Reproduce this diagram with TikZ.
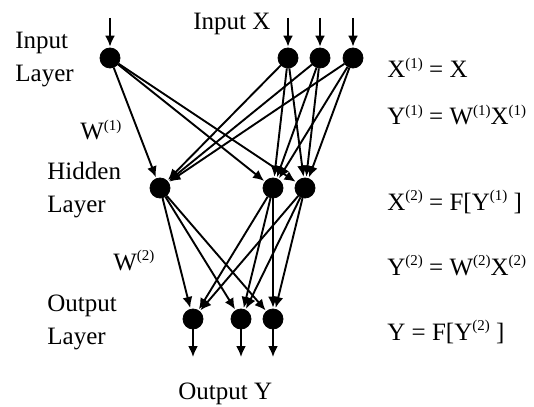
\documentclass[tikz,border=0pt]{standalone}
\usepackage{fontspec}
\setmainfont{Liberation Serif}
\usetikzlibrary{arrows.meta}
\newcommand{\supr}[1]{\raisebox{0.85ex}{\fontsize{7.5}{8}\selectfont(#1)}}
\begin{document}
\begin{tikzpicture}[x=0.5pt,y=-0.5pt,
  neuron/.style={circle,fill=black,draw=black,minimum size=10pt,inner sep=0pt},
  link/.style={line width=0.95pt,-{Latex[length=5.5pt,width=5pt]},shorten >=0.5pt},
  lbl/.style={inner sep=0pt,font=\fontsize{12.5}{16.5}\selectfont},
  side/.style={lbl,align=left,anchor=west}]
\useasboundingbox (0,0) rectangle (534,406);
% neurons
\node[neuron] (i1) at (110,58) {};
\node[neuron] (i2) at (288,58) {};
\node[neuron] (i3) at (320,58) {};
\node[neuron] (i4) at (353,58) {};
\node[neuron] (h1) at (160,188) {};
\node[neuron] (h2) at (273,188) {};
\node[neuron] (h3) at (305,188) {};
\node[neuron] (o1) at (193,319) {};
\node[neuron] (o2) at (241,319) {};
\node[neuron] (o3) at (273,319) {};
% free ends
\coordinate (t1) at (110,18);
\coordinate (t2) at (288,18);
\coordinate (t3) at (320,18);
\coordinate (t4) at (353,18);
\coordinate (b1) at (193,357);
\coordinate (b2) at (241,357);
\coordinate (b3) at (273,357);
% input arrows
\foreach \k in {1,2,3,4} \draw[link] (t\k) -- (i\k);
% output arrows
\foreach \k in {1,2,3} \draw[link,shorten >=0pt] (o\k) -- (b\k);
% input -> hidden
\foreach \a in {1,2,3,4} \foreach \b in {1,2,3} \draw[link] (i\a) -- (h\b);
% hidden -> output
\foreach \a in {1,2,3} \foreach \b in {1,2,3} \draw[link] (h\a) -- (o\b);
% labels
\node[lbl,anchor=base west] (inx) at (193,30) {Input X};
\node[lbl,anchor=base west] (outy) at (178,399) {Output Y};
\node[side] (il) at (15,60) {Input\\Layer};
\node[side] (hl) at (47,190) {Hidden\\Layer};
\node[side] (ol) at (47,322) {Output\\Layer};
\node[lbl,anchor=base west] (w1) at (80,140) {W\supr{1}};
\node[lbl,anchor=base west] (w2) at (113,270) {W\supr{2}};
\node[lbl,anchor=base west] (e1) at (387,78) {X\supr{1} = X};
\node[lbl,anchor=base west] (e2) at (387,125) {Y\supr{1} = W\supr{1}X\supr{1}};
\node[lbl,anchor=base west] (e3) at (387,210) {X\supr{2} = F[Y\supr{1} ]};
\node[lbl,anchor=base west] (e4) at (387,275) {Y\supr{2} = W\supr{2}X\supr{2}};
\node[lbl,anchor=base west] (e5) at (387,340) {Y = F[Y\supr{2} ]};
\end{tikzpicture}
\end{document}
